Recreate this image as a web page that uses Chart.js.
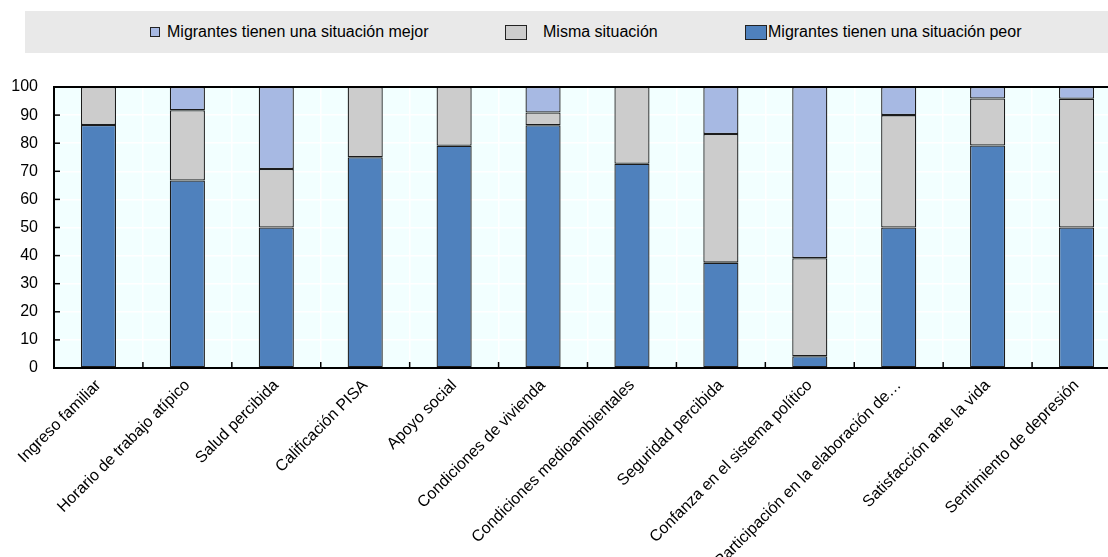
<!DOCTYPE html>
<html lang="es">
<head>
<meta charset="UTF-8">
<title>Situación de los migrantes</title>
<script src="https://cdn.jsdelivr.net/npm/chart.js"></script>
<style>
    body {
        margin: 0;
        padding: 0;
        background: #ffffff;
        overflow: hidden;
        font-family: 'Liberation Sans', Arial, sans-serif;
    }
    .legend-band {
        position: absolute;
        left: 25px;
        top: 11px;
        width: 1090px;
        height: 42px;
        background: #e9e9e9;
    }
    .legend-item {
        position: absolute;
        top: 0;
        height: 42px;
        display: flex;
        align-items: center;
        font-size: 16px;
        color: #000;
        white-space: nowrap;
    }
    .legend-box {
        border: 1px solid #222;
        box-sizing: border-box;
    }
    #wrap {
        position: absolute;
        left: 0;
        top: 0;
        width: 1121px;
        height: 557px;
    }
</style>
</head>
<body>
<div class="legend-band" id="legend"></div>
<div id="wrap"><canvas id="myChart"></canvas></div>

<script>
    const categories = [
        'Ingreso familiar',
        'Horario de trabajo atípico',
        'Salud percibida',
        'Calificación PISA',
        'Apoyo social',
        'Condiciones de vivienda',
        'Condiciones medioambientales',
        'Seguridad percibida',
        'Confanza en el sistema político',
        'Participación en la elaboración de…',
        'Satisfacción ante la vida',
        'Sentimiento de depresión'
    ];

    const seriesNames = [
        'Migrantes tienen una situación peor',
        'Misma situación',
        'Migrantes tienen una situación mejor'
    ];

    const peor  = [86.5, 66.7, 50.0, 75.0, 79.1, 86.4, 72.7, 37.5, 4.2, 50.0, 79.2, 50.0];
    const misma = [13.5, 25.0, 20.8, 25.0, 20.9, 4.5, 27.3, 45.8, 34.9, 40.0, 16.7, 45.8];
    const mejor = [0, 8.3, 29.2, 0, 0, 9.1, 0, 16.7, 60.9, 10.0, 4.1, 4.2];

    const yTicks = [0, 10, 20, 30, 40, 50, 60, 70, 80, 90, 100];

    const colours = ['#4f81bd', '#cccccc', '#a7b9e3'];

    // leyenda en html (orden: mejor, misma, peor)
    const legendSpec = [
        { idx: 2, left: 125, boxW: 10, boxH: 10, gap: 7 },
        { idx: 1, left: 480, boxW: 22, boxH: 15, gap: 16 },
        { idx: 0, left: 720, boxW: 22, boxH: 15, gap: 1 }
    ];
    const legendEl = document.getElementById('legend');
    legendSpec.forEach(s => {
        const item = document.createElement('div');
        item.className = 'legend-item';
        item.style.left = s.left + 'px';
        const box = document.createElement('span');
        box.className = 'legend-box';
        box.style.width = s.boxW + 'px';
        box.style.height = s.boxH + 'px';
        box.style.background = colours[s.idx];
        box.style.marginRight = s.gap + 'px';
        item.appendChild(box);
        item.appendChild(document.createTextNode(seriesNames[s.idx]));
        legendEl.appendChild(item);
    });

    const plotDecor = {
        id: 'plotDecor',
        beforeDraw(chart) {
            const { ctx, chartArea } = chart;
            ctx.save();
            ctx.fillStyle = '#f2ffff';
            ctx.fillRect(chartArea.left, chartArea.top, chartArea.width, chartArea.height);
            ctx.restore();
        },
        afterDraw(chart) {
            const { ctx, chartArea, scales } = chart;
            ctx.save();
            ctx.strokeStyle = '#000';
            ctx.lineWidth = 2;
            // borde superior
            ctx.beginPath();
            ctx.moveTo(chartArea.left, chartArea.top);
            ctx.lineTo(chartArea.right, chartArea.top);
            ctx.stroke();
            // marcas interiores del eje y
            ctx.lineWidth = 1.5;
            yTicks.forEach(v => {
                const y = scales.y.getPixelForValue(v);
                ctx.beginPath();
                ctx.moveTo(chartArea.left, y);
                ctx.lineTo(chartArea.left + 6, y);
                ctx.stroke();
            });
            // marcas interiores del eje x, entre categorías
            for (let i = 0; i < categories.length - 1; i++) {
                const x = (scales.x.getPixelForValue(i) + scales.x.getPixelForValue(i + 1)) / 2;
                ctx.beginPath();
                ctx.moveTo(x, chartArea.bottom);
                ctx.lineTo(x, chartArea.bottom - 6);
                ctx.stroke();
            }
            ctx.restore();
        }
    };

    const ctx = document.getElementById('myChart').getContext('2d');
    const datasets = [peor, misma, mejor].map((data, i) => ({
        label: seriesNames[i],
        data: data,
        backgroundColor: colours[i],
        borderColor: '#1c1c1c',
        borderWidth: 1.3,
        borderSkipped: false,
        categoryPercentage: 1.0,
        barPercentage: 0.395
    }));

    const myChart = new Chart(ctx, {
        type: 'bar',
        data: { labels: categories, datasets: datasets },
        options: {
            responsive: true,
            maintainAspectRatio: false,
            animation: false,
            layout: { padding: { top: 87, right: 0, left: 0, bottom: 0 } },
            plugins: {
                legend: { display: false },
                tooltip: { enabled: false }
            },
            scales: {
                x: {
                    stacked: true,
                    grid: { offset: true, color: '#ffffff', lineWidth: 1.5, drawTicks: false },
                    border: { color: '#000', width: 2 },
                    ticks: {
                        maxRotation: 45,
                        minRotation: 45,
                        autoSkip: false,
                        padding: 8,
                        color: '#000',
                        font: { family: "'Liberation Sans', Arial, sans-serif", size: 16 }
                    },
                    afterFit(scale) { scale.height = 189; }
                },
                y: {
                    stacked: true,
                    min: 0,
                    max: 100,
                    grid: { color: '#ffffff', lineWidth: 1.5, drawTicks: false },
                    border: { color: '#000', width: 2 },
                    ticks: {
                        stepSize: 10,
                        padding: 16,
                        color: '#000',
                        font: { family: "'Liberation Sans', Arial, sans-serif", size: 16 }
                    },
                    afterFit(scale) { scale.width = 54; }
                }
            }
        },
        plugins: [plotDecor]
    });
</script>
</body>
</html>
